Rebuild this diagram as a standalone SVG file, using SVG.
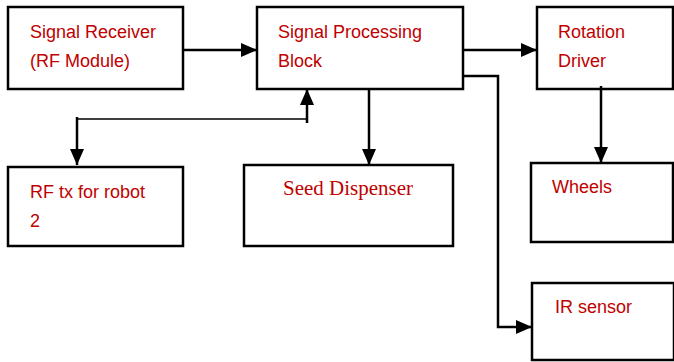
<svg xmlns="http://www.w3.org/2000/svg" width="674" height="362" viewBox="0 0 674 362">
<style>
.box{fill:#fff;stroke:#000;stroke-width:2.5}
.t{font-family:"Liberation Sans",Arial,sans-serif;font-size:18px;fill:#C00000}
.s{font-family:"Liberation Serif","Times New Roman",serif;font-size:21px;fill:#C00000}
.c{fill:none;stroke:#000;stroke-width:2.5}
.thin{fill:none;stroke:#000;stroke-width:1.5}
</style>
<defs>
<marker id="ah" viewBox="0 0 16 14" refX="16" refY="7" markerWidth="16" markerHeight="14" markerUnits="userSpaceOnUse" orient="auto">
<path d="M0,0 L16,7 L0,14 Z" fill="#000"/>
</marker>
</defs>
<rect width="674" height="362" fill="#fff"/>
<g id="receiver"><rect class="box" x="8" y="7" width="175" height="82"/><text class="t" x="30" y="38">Signal Receiver</text><text class="t" x="30" y="67">(RF Module)</text></g>
<g id="processing"><rect class="box" x="257" y="7" width="206" height="82"/><text class="t" x="278" y="38">Signal Processing</text><text class="t" x="278" y="67">Block</text></g>
<g id="rotation"><rect class="box" x="537" y="7" width="136" height="82"/><text class="t" x="558" y="38">Rotation</text><text class="t" x="558" y="67">Driver</text></g>
<g id="rftx"><rect class="box" x="8" y="167" width="175" height="79"/><text class="t" x="30" y="198">RF tx for robot</text><text class="t" x="30" y="227">2</text></g>
<g id="seed"><rect class="box" x="244" y="165" width="209" height="81"/><text class="s" x="283" y="195">Seed Dispenser</text></g>
<g id="wheels"><rect class="box" x="531" y="163" width="142" height="79"/><text class="t" x="552" y="193">Wheels</text></g>
<g id="ir"><rect class="box" x="532" y="283" width="142" height="77"/><text class="t" x="555" y="313">IR sensor</text></g>
<g id="connectors">
<path class="c" d="M183,50 H257" marker-end="url(#ah)"/>
<path class="c" d="M463,50 H537" marker-end="url(#ah)"/>
<path class="c" d="M463,76 H498 V327 H532" marker-end="url(#ah)"/>
<path class="c" d="M369,88 V165" marker-end="url(#ah)"/>
<path class="c" d="M601,86 V163" marker-end="url(#ah)"/>
<path class="thin" d="M77,119 H307"/>
<path class="c" d="M77,117 V165" marker-end="url(#ah)"/>
<path class="c" d="M307,123 V89" marker-end="url(#ah)"/>
</g>
</svg>
